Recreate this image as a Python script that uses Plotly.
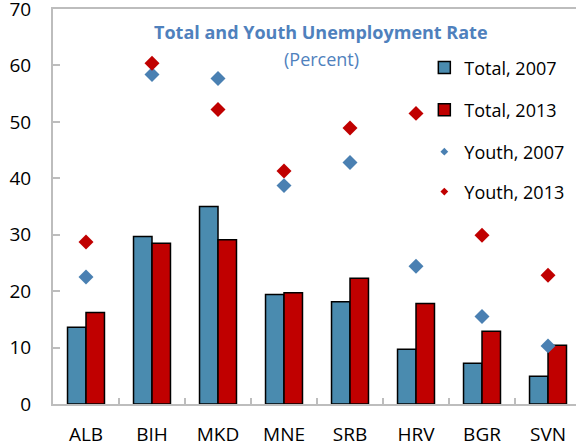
import plotly.graph_objects as go

categories = ["ALB", "BIH", "MKD", "MNE", "SRB", "HRV", "BGR", "SVN"]
total_2007 = [13.6, 29.7, 35.0, 19.4, 18.1, 9.7, 7.2, 4.9]
total_2013 = [16.2, 28.5, 29.1, 19.7, 22.3, 17.8, 12.9, 10.4]
youth_2007 = [22.5, 58.4, 57.7, 38.7, 42.8, 24.4, 15.5, 10.3]
youth_2013 = [28.7, 60.4, 52.2, 41.3, 48.9, 51.5, 29.9, 22.8]
y_ticks = [0, 10, 20, 30, 40, 50, 60, 70]

BLUE = "#4A8BAF"
RED = "#C00000"
YBLUE = "#4A80B2"
TITLE = "#4F81BD"
FONT = "Open Sans"

fig = go.Figure()
fig.add_trace(go.Bar(x=categories, y=total_2007, name="Total, 2007",
                     marker=dict(color=BLUE, line=dict(color="black", width=1.5)),
                     legend="legend"))
fig.add_trace(go.Bar(x=categories, y=total_2013, name="Total, 2013",
                     marker=dict(color=RED, line=dict(color="black", width=1.5)),
                     legend="legend2"))
fig.add_trace(go.Scatter(x=categories, y=youth_2007, name="Youth, 2007", mode="markers",
                         marker=dict(symbol="diamond", color=YBLUE, size=11.5),
                         showlegend=False))
fig.add_trace(go.Scatter(x=categories, y=youth_2013, name="Youth, 2013", mode="markers",
                         marker=dict(symbol="diamond", color=RED, size=11.5),
                         showlegend=False))
# legend-only entries with the small legend diamonds
fig.add_trace(go.Scatter(x=[None], y=[None], name="Youth, 2007", mode="markers",
                         marker=dict(symbol="diamond", color=YBLUE, size=6),
                         legend="legend3", showlegend=True))
fig.add_trace(go.Scatter(x=[None], y=[None], name="Youth, 2013", mode="markers",
                         marker=dict(symbol="diamond", color=RED, size=6),
                         legend="legend4", showlegend=True))

leg_common = dict(xanchor="left", yanchor="middle", bgcolor="rgba(0,0,0,0)",
                  font=dict(family=FONT, size=18, color="black"), itemsizing="trace")
lx = 0.71
fig.update_layout(
    width=576, height=445,
    margin=dict(l=53, r=0, t=9, b=41, autoexpand=False),
    paper_bgcolor="white", plot_bgcolor="white",
    barmode="group", bargap=0.44, bargroupgap=0,
    font=dict(family=FONT, size=19, color="black"),
    showlegend=True,
    legend=dict(x=lx, y=0.851, **leg_common),
    legend2=dict(x=lx, y=0.744, **leg_common),
    legend3=dict(x=lx, y=0.638, **leg_common),
    legend4=dict(x=lx, y=0.537, **leg_common),
    xaxis=dict(range=[-0.5, 7.424], showline=True, mirror=True, linecolor="#BDBDBD",
               linewidth=2, ticks="inside", tickson="boundaries", ticklen=6,
               tickcolor="#BDBDBD", tickwidth=1.5, ticklabelstandoff=12, showgrid=False,
               automargin=False, ticklabeloverflow="allow",
               tickfont=dict(family=FONT, size=19)),
    yaxis=dict(range=[0, 70], tickvals=y_ticks, showline=True, linecolor="#BDBDBD",
               linewidth=2, ticks="inside", ticklen=7, tickcolor="#BDBDBD", tickwidth=1.5,
               ticklabelstandoff=16, showgrid=False, zeroline=False, automargin=False,
               ticklabeloverflow="allow", tickfont=dict(family=FONT, size=19)),
    annotations=[
        dict(text="<b>Total and Youth Unemployment Rate</b>", xref="paper", yref="paper",
             x=(321 - 53) / 523, y=(404 - 32) / 395, showarrow=False, xanchor="center",
             yanchor="middle", font=dict(family=FONT, size=18, color=TITLE)),
        dict(text="(Percent)", xref="paper", yref="paper",
             x=(321 - 53) / 523, y=(404 - 59) / 395, showarrow=False, xanchor="center",
             yanchor="middle", font=dict(family=FONT, size=18, color=TITLE)),
    ],
)

fig.write_html("out.html", config={"displayModeBar": False},
               post_script="document.body.style.margin='0';")
